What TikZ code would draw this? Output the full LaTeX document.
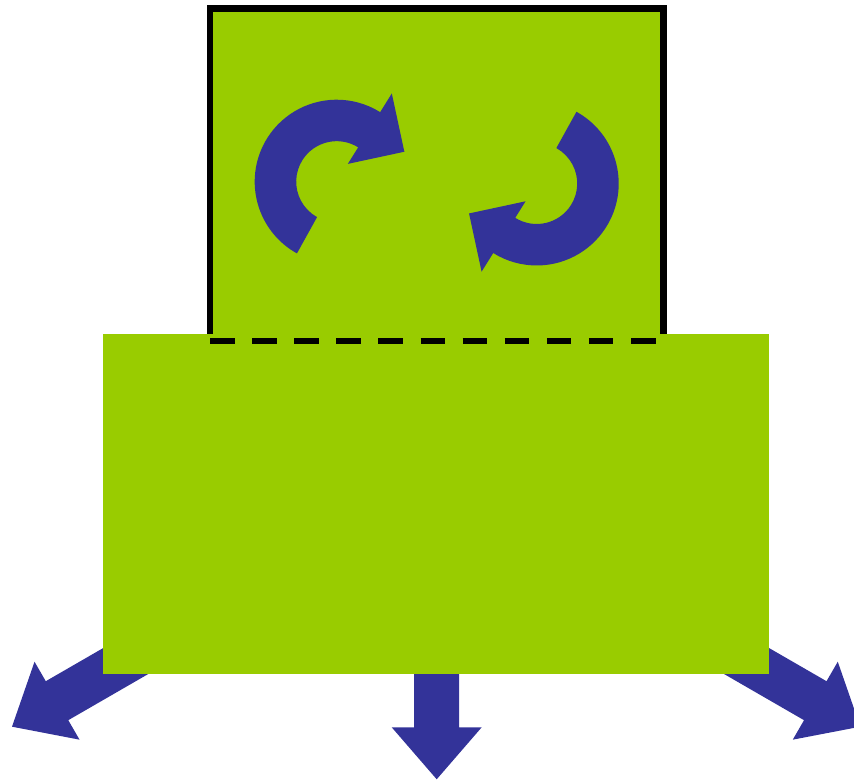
\documentclass[tikz,border=0pt]{standalone}
\usetikzlibrary{calc}
\definecolor{leaf}{RGB}{153,204,0}
\definecolor{ink}{RGB}{51,51,153}
\tikzset{
  panel/.style={fill=leaf, inner sep=0pt, outer sep=0pt},
  framed/.style={panel, draw=black, line width=6.5pt},
  seam/.style={draw=black, line width=6pt, dash pattern=on 24.5pt off 17.6pt},
  bluefill/.style={fill=ink},
}
\begin{document}
\begin{tikzpicture}[x=1pt,y=1pt]
\useasboundingbox (0,0) rectangle (854,781);
\clip (0,0) rectangle (854,781);
% upper framed box
\node[framed, minimum width=453.3pt, minimum height=333pt] (top) at (436.65,606.2) {};
% outgoing arrows (drawn beneath the base box)
\coordinate (tipL) at (12,54.3);
\coordinate (tipM) at (436.7,1.7);
\coordinate (tipR) at (860.3,54.3);
\begin{scope}[shift={(tipL)}, rotate=210]
  \fill[bluefill] (0,0) -- (-52,45) -- (-52,22.5) -- (-200,22.5) -- (-200,-22.5) -- (-52,-22.5) -- (-52,-45) -- cycle;
\end{scope}
\begin{scope}[shift={(tipM)}, rotate=-90]
  \fill[bluefill] (0,0) -- (-52,45) -- (-52,22.5) -- (-130,22.5) -- (-130,-22.5) -- (-52,-22.5) -- (-52,-45) -- cycle;
\end{scope}
\begin{scope}[shift={(tipR)}, rotate=-30]
  \fill[bluefill] (0,0) -- (-52,45) -- (-52,22.5) -- (-200,22.5) -- (-200,-22.5) -- (-52,-22.5) -- (-52,-45) -- cycle;
\end{scope}
% base box
\node[panel, minimum width=666.3pt, minimum height=340pt] (base) at (435.85,277) {};
% dashed seam
\draw[seam] (top.south west) -- (top.south east);
% circular arrows
\coordinate (cL) at (336.7,599.3);
\coordinate (cR) at (536.7,597.5);
\fill[bluefill] (cL) ++(241:82) arc[start angle=241, end angle=58, radius=82]
  -- ($(cL)+(58:104)$) -- ($(cL)+(58:61.25)+(-32:41.5)$) -- ($(cL)+(58:21)$)
  -- ($(cL)+(58:40.5)$) arc[start angle=58, end angle=241, radius=40.5] -- cycle;
\fill[bluefill] (cR) ++(61:82) arc[start angle=61, end angle=-122, radius=82]
  -- ($(cR)+(238:104)$) -- ($(cR)+(238:61.25)+(148:41.5)$) -- ($(cR)+(238:21)$)
  -- ($(cR)+(238:40.5)$) arc[start angle=-122, end angle=61, radius=40.5] -- cycle;
\end{tikzpicture}
\end{document}
